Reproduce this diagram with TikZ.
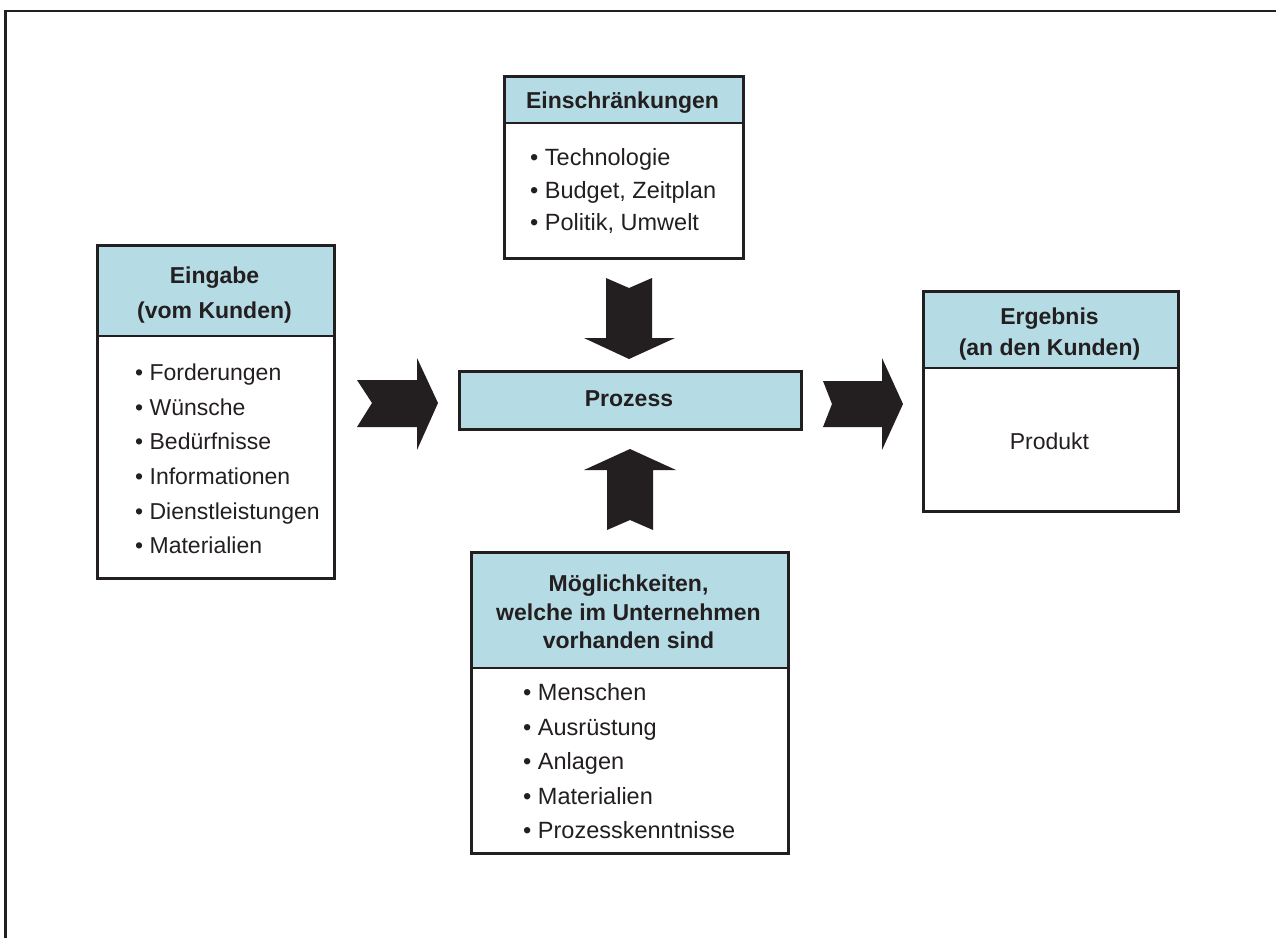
\documentclass[tikz,border=0pt]{standalone}
\usepackage{fontspec}
\setmainfont{Liberation Sans}
\definecolor{hdr}{RGB}{181,220,228}
\definecolor{ink}{RGB}{35,31,32}
\begin{document}
\begin{tikzpicture}[x=1pt,y=-1pt,
  box/.style={draw=ink,line width=3pt,inner sep=0pt,anchor=north west},
  sep/.style={draw=ink,line width=1.8pt},
  ttl/.style={align=center,inner sep=0pt,font=\fontsize{23}{35}\selectfont\bfseries,text=ink},
  itm/.style={align=left,inner sep=0pt,anchor=west,font=\fontsize{23}{34.6}\selectfont,text=ink},
  blk/.style={fill=ink,draw=none}]
\useasboundingbox (0,0) rectangle (1276,938);
\draw[ink,line width=2.5pt] (5.5,938) -- (5.5,11) -- (1276,11);

% Eingabe
\fill[hdr] (96,244) rectangle (333,336);
\node[box,minimum width=237pt,minimum height=333pt] (eing) at (96,244) {};
\draw[sep] (96,336) -- (333,336);
\node[ttl] (eingT) at (214.5,295) {Eingabe\\(vom Kunden)};
\node[itm] (eingB) at (135,459) {• Forderungen\\• Wünsche\\• Bedürfnisse\\• Informationen\\• Dienstleistungen\\• Materialien};

% Einschraenkungen
\fill[hdr] (503,75) rectangle (742,123);
\node[box,minimum width=239pt,minimum height=182pt] (ein) at (503,75) {};
\draw[sep] (503,123) -- (742,123);
\node[ttl] (einT) at (622.5,103) {Einschränkungen};
\node[itm,font=\fontsize{23.5}{32.5}\selectfont] (einB) at (530,191) {• Technologie\\• Budget, Zeitplan\\• Politik, Umwelt};

% Prozess
\node[box,fill=hdr,minimum width=342pt,minimum height=58pt] (proz) at (458,370) {};
\node[ttl] (prozT) at (629,399) {Prozess};

% Ergebnis
\fill[hdr] (922,290) rectangle (1177,368);
\node[box,minimum width=255pt,minimum height=220pt] (erg) at (922,290) {};
\draw[sep] (922,368) -- (1177,368);
\node[ttl,font=\fontsize{23}{31.5}\selectfont\bfseries] (ergT) at (1049.5,334) {Ergebnis\\(an den Kunden)};
\node[itm,anchor=center] (ergB) at (1049.5,441) {Produkt};

% Moeglichkeiten
\fill[hdr] (470,551) rectangle (787,668);
\node[box,minimum width=317pt,minimum height=301pt] (moeg) at (470,551) {};
\draw[sep] (470,668) -- (787,668);
\node[ttl,font=\fontsize{23}{28.5}\selectfont\bfseries] (moegT) at (628.5,612) {Möglichkeiten,\\welche im Unternehmen\\vorhanden sind};
\node[itm,font=\fontsize{23.5}{34.5}\selectfont] (moegB) at (523,761.5) {• Menschen\\• Ausrüstung\\• Anlagen\\• Materialien\\• Prozesskenntnisse};

% block arrows
\fill[blk] (357,380) -- (417,380) -- (417,358) -- (438,403) -- (417,450) -- (417,427) -- (357,427) -- (372,403) -- cycle;
\fill[blk] (823,381) -- (882,381) -- (882,358) -- (903,404) -- (882,450) -- (882,427) -- (823,427) -- (832,404) -- cycle;
\fill[blk] (606,278) -- (629,288) -- (652,278) -- (652,338) -- (675,338) -- (629,359) -- (584,338) -- (606,338) -- cycle;
\fill[blk] (630,449) -- (676,470) -- (653,470) -- (653,530) -- (630,520) -- (607,530) -- (607,470) -- (584,470) -- cycle;
\end{tikzpicture}
\end{document}
